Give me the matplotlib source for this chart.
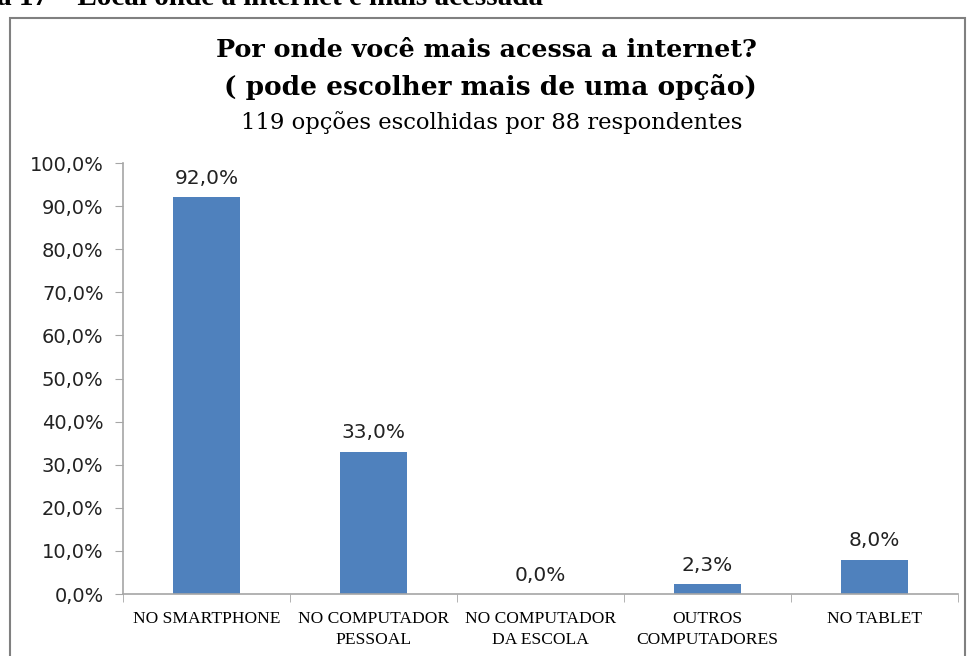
import matplotlib.pyplot as plt
import matplotlib.patches as patches
from matplotlib.ticker import FuncFormatter

categorias = ["NO SMARTPHONE", "NO COMPUTADOR\nPESSOAL", "NO COMPUTADOR\nDA ESCOLA",
              "OUTROS\nCOMPUTADORES", "NO TABLET"]
valores = [92.0, 33.0, 0.0, 2.3, 8.0]
rotulos = ["92,0%", "33,0%", "0,0%", "2,3%", "8,0%"]
yticks = [0, 10, 20, 30, 40, 50, 60, 70, 80, 90, 100]

AZUL = "#4F81BD"
CINZA = "#A6A6A6"

fig = plt.figure(figsize=(9.73, 6.56), dpi=100)
W, H = 973, 656

# legenda da figura (cortada no topo, como no documento original)
fig.text(-3 / W, 1 - 5 / H, "a 17 – Local onde a internet é mais acessada",
         family="Liberation Serif", fontweight="bold", fontsize=21,
         ha="left", va="baseline")

# moldura do gráfico
moldura = patches.Rectangle((10 / W, -0.05), 955 / W, 1.05 - 18 / H,
                            transform=fig.transFigure, fill=False,
                            edgecolor="#808080", linewidth=1.5, clip_on=False)
fig.patches.append(moldura)

fig.text(486 / W, 1 - 50 / H, "Por onde você mais acessa a internet?",
         family="DejaVu Serif", fontweight="bold", fontsize=18.3,
         ha="center", va="center")
fig.text(490 / W, 1 - 87 / H, "( pode escolher mais de uma opção)",
         family="DejaVu Serif", fontweight="bold", fontsize=19,
         ha="center", va="center")
fig.text(492 / W, 1 - 123 / H, "119 opções escolhidas por 88 respondentes",
         family="DejaVu Serif", fontsize=16.3,
         ha="center", va="center")

ax = fig.add_axes([123 / W, 1 - 594 / H, 835 / W, (594 - 163) / H])
x = range(len(categorias))
barras = ax.bar(x, valores, width=0.4, color=AZUL, zorder=2)

for xi, v, r in zip(x, valores, rotulos):
    ax.text(xi, v + 2.2, r, ha="center", va="bottom", fontsize=14.5,
            family="DejaVu Sans", color="#222222")

ax.set_xlim(-0.5, len(categorias) - 0.5)
ax.set_ylim(0, 100)
ax.set_yticks(yticks)
ax.yaxis.set_major_formatter(FuncFormatter(lambda v, p: f"{v:.1f}%".replace(".", ",")))
ax.set_xticks(list(x))
ax.set_xticklabels(categorias, family="Liberation Serif", fontsize=12.6,
                   linespacing=1.45)
ax.set_xticks([i - 0.5 for i in range(len(categorias) + 1)], minor=True)
ax.tick_params(axis="x", which="major", length=0, pad=12)
ax.tick_params(axis="x", which="minor", length=6, color=CINZA)
ax.tick_params(axis="y", length=6, color=CINZA, labelsize=14, pad=8)
for lbl in ax.get_yticklabels():
    lbl.set_family("DejaVu Sans")
    lbl.set_color("#222222")

for s in ["top", "right"]:
    ax.spines[s].set_visible(False)
for s in ["left", "bottom"]:
    ax.spines[s].set_color(CINZA)
    ax.spines[s].set_linewidth(1.2)

fig.savefig("out.png", dpi=100)
